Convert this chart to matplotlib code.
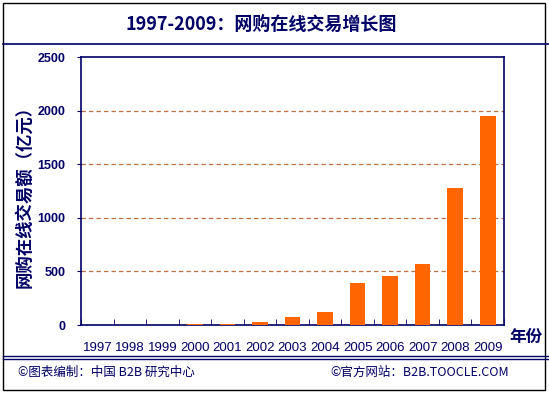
import matplotlib
matplotlib.use("Agg")
import matplotlib.pyplot as plt
from matplotlib.lines import Line2D
from matplotlib.patches import Rectangle
import numpy as np

plt.rcParams['font.family'] = ['Noto Sans CJK SC', 'DejaVu Sans']

# data
years = ['1997', '1998', '1999', '2000', '2001', '2002', '2003',
         '2004', '2005', '2006', '2007', '2008', '2009']
amount = [0.5, 1, 2, 8, 8, 28, 75, 122, 395, 458, 568, 1278, 1950]
y_ticks = [0, 500, 1000, 1500, 2000, 2500]

navy = '#000066'
orange = '#FF6600'
grid_col = '#C0703C'

W, H = 549, 395
fig = plt.figure(figsize=(W / 100, H / 100), dpi=100)
fig.patch.set_facecolor('white')

def fx(px):
    return px / W

def fy(py):
    return 1 - py / H

# outer frame and separator lines
fig.add_artist(Rectangle((fx(2.5), fy(390)), fx(542.5), 387.3 / H, fill=False,
                         edgecolor='black', lw=1, transform=fig.transFigure))
fig.add_artist(Line2D([fx(2.5), fx(549)], [fy(43.5), fy(43.5)], color=navy, lw=1.2,
                      transform=fig.transFigure))
fig.add_artist(Line2D([fx(2.5), fx(549)], [fy(355.7), fy(355.7)], color=navy, lw=1,
                      transform=fig.transFigure))
fig.add_artist(Line2D([fx(2.5), fx(549)], [fy(359), fy(359)], color=navy, lw=1,
                      transform=fig.transFigure))

fig.text(fx(261), fy(24), '1997-2009：网购在线交易增长图', ha='center', va='center',
         fontsize=13, fontweight='bold', color=navy)

ax = fig.add_axes([fx(81), fy(325), fx(423), (325 - 57) / H])
x = np.arange(len(years))
ax.bar(x, amount, width=0.48, color=orange, zorder=3)

ax.set_xlim(-0.5, len(years) - 0.5)
ax.set_ylim(0, 2500)
ax.set_yticks(y_ticks)
ax.set_yticklabels([str(v) for v in y_ticks], fontsize=9, fontweight='bold',
                   color=navy, family='Liberation Sans')
ax.tick_params(axis='y', length=3, color=navy, pad=8)

ax.set_xticks(x)
ax.set_xticklabels(years, fontsize=9.5, color=navy, family='Liberation Sans')
ax.set_xticks(np.arange(len(years) + 1) - 0.5, minor=True)
ax.tick_params(axis='x', which='major', length=0, pad=12)
ax.tick_params(axis='x', which='minor', direction='in', length=4, color=navy)

for v in y_ticks[1:-1]:
    ax.axhline(v, color=grid_col, lw=0.9, ls=(0, (3.5, 2.5)), zorder=1)

for s in ax.spines.values():
    s.set_color(navy)
    s.set_linewidth(1.2)

fig.text(fx(24), fy(192), '网购在线交易额（亿元）', rotation=90, ha='center',
         va='center', fontsize=12.5, fontweight='bold', color=navy)

fig.text(fx(526), fy(337), '年份', ha='center', va='center', fontsize=12,
         fontweight='bold', color=navy)

fig.text(fx(18), fy(372), '©图表编制：中国 B2B 研究中心', ha='left', va='center',
         fontsize=9, color=navy)
fig.text(fx(330), fy(372), '©官方网站：B2B.TOOCLE.COM', ha='left', va='center',
         fontsize=9, color=navy)

fig.savefig('out.png', dpi=100)
plt.close(fig)
